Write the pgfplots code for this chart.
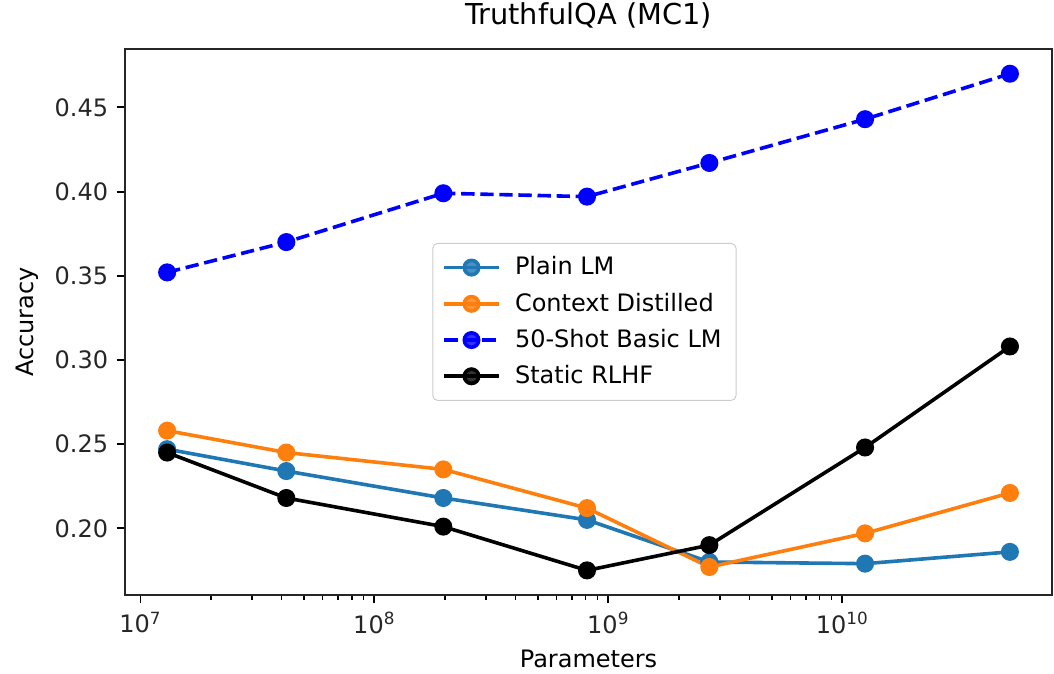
\documentclass[border=0pt]{standalone}
\usepackage{fontspec}
\setmainfont{DejaVu Sans}
\usepackage{pgfplots}
\pgfplotsset{compat=1.18}

\definecolor{tabblue}{HTML}{1F77B4}
\definecolor{taborange}{HTML}{FF7F0E}
\definecolor{pureblue}{HTML}{0000FF}

% model sizes (parameters) and MC1 accuracy per model family
\pgfplotstableread{
params    plain  distilled  fewshot  rlhf
1.3e7     0.247  0.258      0.352    0.245
4.2e7     0.234  0.245      0.370    0.218
1.97e8    0.218  0.235      0.399    0.201
8.1e8     0.205  0.212      0.397    0.175
2.7e9     0.180  0.177      0.417    0.190
1.25e10   0.179  0.197      0.443    0.248
5.2e10    0.186  0.221      0.470    0.308
}\truthfulqa

\begin{document}
\begin{tikzpicture}
\useasboundingbox (0,0) rectangle (439.17pt,280.83pt);
\begin{axis}[
  at={(52.08pt,32.92pt)}, anchor=south west,
  scale only axis, width=386.25pt, height=227.5pt,
  xmode=log, xmin=8.588e6, xmax=7.87e10,
  ymin=0.1604, ymax=0.4847,
  xtick={1e7,1e8,1e9,1e10},
  xticklabels={10\textsuperscript{7},10\textsuperscript{8},10\textsuperscript{9},10\textsuperscript{10}},
  ytick={0.20,0.25,0.30,0.35,0.40,0.45},
  yticklabel style={/pgf/number format/.cd,fixed,fixed zerofill,precision=2,assume math mode=true},
  tick label style={font=\fontsize{10}{12}\selectfont, text=black!85},
  label style={font=\fontsize{10}{12}\selectfont},
  title style={font=\fontsize{12}{14.4}\selectfont, yshift=-1pt},
  title={TruthfulQA (MC1)},
  xlabel={Parameters}, ylabel={Accuracy},
  tick align=outside, xtick pos=bottom, ytick pos=left,
  major tick length=3.5pt, minor tick length=2pt,
  every major tick/.style={black, line width=0.8pt},
  every minor tick/.style={black, line width=0.6pt},
  axis line style={line width=0.8pt, black!85},
  legend style={at={(0.3315,0.6447)}, anchor=north west,
    draw=black!20, rounded corners=2pt, fill=white, fill opacity=0.8, text opacity=1,
    font=\fontsize{10}{12}\selectfont, row sep=2pt, inner xsep=4pt, inner ysep=3.5pt},
  legend cell align=left,
  legend image code/.code={\draw[mark repeat=2,mark phase=2,#1] plot coordinates {(0cm,0cm) (0.4cm,0cm) (0.8cm,0cm)};
    \path (0.8cm+4pt,0cm);},
  every axis plot/.append style={line width=1.5pt, mark=*, mark size=3pt, mark options={solid}},
]
\addplot[color=tabblue] table[x=params, y=plain] {\truthfulqa};
\addlegendentry{Plain LM}
\addplot[color=taborange] table[x=params, y=distilled] {\truthfulqa};
\addlegendentry{Context Distilled}
\addplot[color=pureblue, dash pattern=on 5.55pt off 2.4pt] table[x=params, y=fewshot] {\truthfulqa};
\addlegendentry{50-Shot Basic LM}
\addplot[color=black] table[x=params, y=rlhf] {\truthfulqa};
\addlegendentry{Static RLHF}
\end{axis}
\end{tikzpicture}
\end{document}
